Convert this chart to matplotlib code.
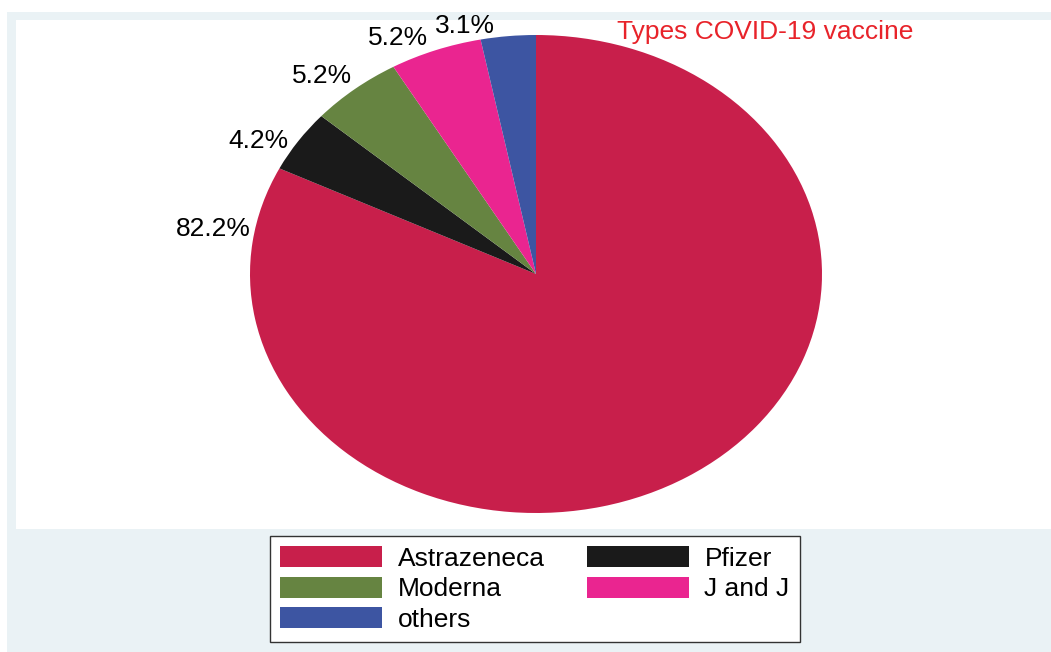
import matplotlib
matplotlib.use("Agg")
import matplotlib.pyplot as plt
from matplotlib.patches import Rectangle

# ---- data ----
vaccines = ["Astrazeneca", "Pfizer", "Moderna", "J and J", "others"]
shares = [82.2, 4.2, 5.2, 5.2, 3.1]
pct_labels = ["82.2%", "4.2%", "5.2%", "5.2%", "3.1%"]
title_text = "Types COVID-19 vaccine"

# ---- style ----
colors = ["#C81F4B", "#1A1A1A", "#668441", "#EA2590", "#3D55A2"]
W, H = 1051, 652
plt.rcParams['font.family'] = ['Liberation Sans', 'DejaVu Sans']
FS = 19

fig = plt.figure(figsize=(W / 100, H / 100), dpi=100)
fig.patch.set_facecolor("white")

def px_rect(x0, y0, x1, y1):
    # pixel coords (top-left origin) -> figure fraction
    return (x0 / W, 1 - y1 / H, (x1 - x0) / W, (y1 - y0) / H)

# outer light blue region
l, b, w, h = px_rect(7, 12, W + 5, H + 5)
fig.patches.append(Rectangle((l, b), w, h, transform=fig.transFigure,
                             facecolor="#EAF2F5", edgecolor="none", zorder=-2))
# inner white plot region
l, b, w, h = px_rect(16, 20, W + 5, 529)
fig.patches.append(Rectangle((l, b), w, h, transform=fig.transFigure,
                             facecolor="white", edgecolor="none", zorder=-1))

# pie axes (elliptical pie)
ax = fig.add_axes(px_rect(250, 35, 822, 513))
ax.set_facecolor("none")
ax.set_zorder(1)
wedges, _ = ax.pie(shares, colors=colors, startangle=90, counterclock=False,
                   radius=1.0, center=(0, 0),
                   wedgeprops=dict(linewidth=0, edgecolor="none"))
ax.set_aspect("auto")
ax.set_xlim(-1, 1)
ax.set_ylim(-1, 1)
ax.axis("off")

# percent label positions (pixel centers)
label_pos = [(213, 229), (258, 141), (322, 76), (398, 38), (465, 26)]
for txt, (x, y) in zip(pct_labels, label_pos):
    fig.text(x / W, 1 - y / H, txt, ha="center", va="center",
             fontsize=FS, color="black", zorder=5)

# title
fig.text(765 / W, 1 - 32 / H, title_text, ha="center", va="center",
         fontsize=FS, color="#E8232A", zorder=5)

# legend (row-major order via column-major handle order)
order = [0, 2, 4, 1, 3]
leg = fig.legend([wedges[i] for i in order], [vaccines[i] for i in order],
                 ncol=2, loc="center",
                 bbox_to_anchor=((267 + 803) / 2 / W, 1 - (537 + 641) / 2 / H),
                 fontsize=FS, frameon=True, fancybox=False, shadow=False,
                 framealpha=1.0,
                 handlelength=3.85, handleheight=0.85, handletextpad=0.6,
                 columnspacing=1.6, borderpad=0.4, labelspacing=0.22,
                 borderaxespad=0)
leg.set_zorder(6)
leg.get_frame().set_edgecolor("#333333")
leg.get_frame().set_linewidth(1.0)
leg.get_frame().set_facecolor("white")

fig.savefig("out.png", dpi=100)
